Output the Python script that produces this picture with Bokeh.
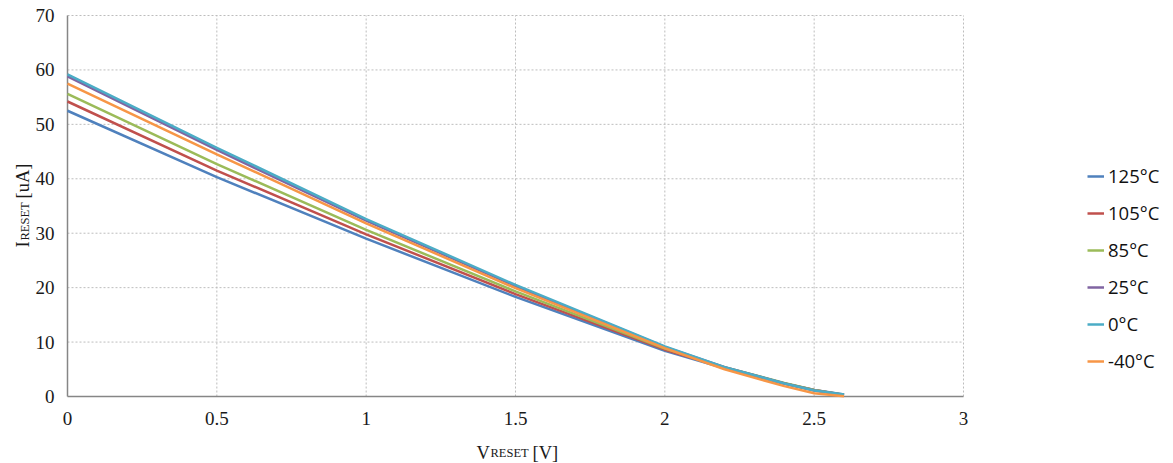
import math
from bokeh.plotting import figure
from bokeh.models import (Range1d, Legend, LegendItem, Label, LabelSet, ColumnDataSource)
from bokeh.core.properties import value
from bokeh.embed import file_html
from bokeh.resources import INLINE

# ---- data ----
v_reset = [0.0, 0.5, 1.0, 1.5, 2.0, 2.2, 2.4, 2.5, 2.6]
i_125 = [52.5, 40.3, 29.0, 18.3, 8.4, 5.2, 2.4, 1.2, 0.35]
i_105 = [54.2, 41.5, 29.8, 18.8, 8.6, 5.3, 2.4, 1.2, 0.3]
i_85 = [55.6, 42.7, 30.6, 19.3, 8.8, 5.4, 2.5, 1.2, 0.3]
i_25 = [58.8, 45.3, 32.3, 20.3, 9.1, 5.4, 2.4, 1.1, 0.3]
i_0 = [59.2, 45.7, 32.6, 20.5, 9.2, 5.4, 2.4, 1.1, 0.35]
i_m40 = [57.5, 44.5, 31.8, 19.9, 8.9, 5.0, 1.9, 0.6, 0.05]

series_names = ["125°C", "105°C", "85°C", "25°C", "0°C", "-40°C"]
series_values = [i_125, i_105, i_85, i_25, i_0, i_m40]
series_colors = ["#4F81BD", "#C0504D", "#9BBB59", "#8064A2", "#4BACC6", "#F79646"]

x_ticks = [0, 0.5, 1, 1.5, 2, 2.5, 3]
x_tick_labels = ["0", "0.5", "1", "1.5", "2", "2.5", "3"]
y_ticks = [0, 10, 20, 30, 40, 50, 60, 70]
y_tick_labels = ["0", "10", "20", "30", "40", "50", "60", "70"]
x_min, x_max = 0, 3
y_min, y_max = 0, 70

# ---- layout (pixels) ----
W, H = 1173, 463
PL, PR, PT, PB = 67, 963, 15, 396          # plot-area edges on the canvas
kx = (PR - PL) / (x_max - x_min)
ky = (PB - PT) / (y_max - y_min)

p = figure(width=W, height=H, output_backend="svg", toolbar_location=None,
           x_range=Range1d(x_min - PL / kx, x_max + (W - PR) / kx),
           y_range=Range1d(y_min - (H - PB) / ky, y_max + PT / ky),
           x_axis_location=None, y_axis_location=None,
           min_border=0, min_border_left=0, min_border_right=0,
           min_border_top=0, min_border_bottom=0)
p.outline_line_color = None
p.background_fill_color = "white"
p.border_fill_color = "white"
p.grid.visible = False

serif = "Liberation Serif"

# grid lines (dotted)
gx = [t for t in x_ticks if t != x_min]
gy = [t for t in y_ticks if t != y_min]
p.segment(x0=gx, y0=[y_min] * len(gx), x1=gx, y1=[y_max] * len(gx),
          line_color="#bdbdbd", line_dash="2 2", line_width=1)
p.segment(x0=[x_min] * len(gy), y0=gy, x1=[x_max] * len(gy), y1=gy,
          line_color="#bdbdbd", line_dash="2 2", line_width=1)

# axis lines
p.segment(x0=[x_min, x_min], y0=[y_min, y_min], x1=[x_max, x_min], y1=[y_min, y_max],
          line_color="#868686", line_width=1.5)

# tick labels
xsrc = ColumnDataSource(dict(x=x_ticks, y=[y_min] * len(x_ticks), t=x_tick_labels))
ysrc = ColumnDataSource(dict(x=[x_min] * len(y_ticks), y=y_ticks, t=y_tick_labels))
p.add_layout(LabelSet(x="x", y="y", text="t", source=xsrc, y_offset=-22,
                      text_align="center", text_baseline="middle",
                      text_font=value(serif), text_font_size="19px", text_color="#1a1a1a"))
p.add_layout(LabelSet(x="x", y="y", text="t", source=ysrc, x_offset=-13,
                      text_align="right", text_baseline="middle",
                      text_font=value(serif), text_font_size="19px", text_color="#1a1a1a"))

# series
items = []
for name, vals, col in zip(series_names, series_values, series_colors):
    r = p.line(v_reset, vals, line_color=col, line_width=2.5)
    items.append(LegendItem(label=name, renderers=[r]))

legend = Legend(items=items, location=(1087, 90), padding=0, margin=0,
                border_line_alpha=0, background_fill_alpha=0,
                glyph_width=17, glyph_height=20, label_height=20,
                spacing=12, label_standoff=4,
                label_text_font="Open Sans", label_text_font_size="18.5px",
                label_text_color="#111111")
p.add_layout(legend, "center")

# axis titles with subscripts (anchored at data origin, offset in pixels)
def lab(text, xo, yo, size, angle=0.0):
    p.add_layout(Label(x=x_min, y=y_min, x_offset=xo, y_offset=yo, text=text, angle=angle,
                       text_font=serif, text_font_size=size, text_color="#1a1a1a",
                       text_baseline="alphabetic", text_align="left"))

# x title: V_RESET [V]
lab("V", 409, -56, "18.5px")
lab("RESET", 423, -56, "12.5px")
lab("[V]", 465, -56, "18.5px")

# y title: I_RESET [uA] (rotated)
lab("I", -45, 149, "18.5px", math.pi / 2)
lab("RESET", -43, 156, "12.5px", math.pi / 2)
lab("[uA]", -45, 198, "18.5px", math.pi / 2)

open("out.html", "w").write(file_html(p, INLINE))
